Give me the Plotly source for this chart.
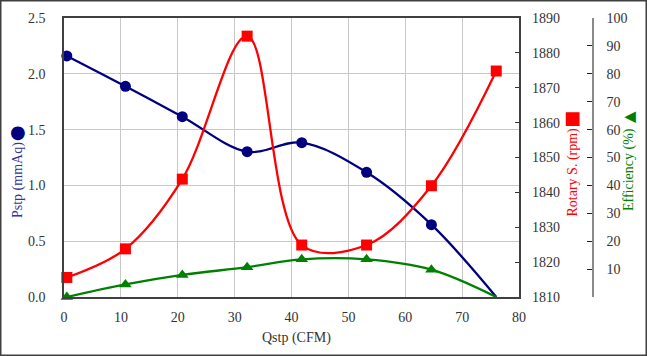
import plotly.graph_objects as go

# ---- data ----
qstp = [0.5, 10.8, 20.8, 32.2, 41.8, 53.2, 64.6, 76.0]
pstp = [2.16, 1.888, 1.616, 1.302, 1.383, 1.117, 0.648, 0.0]
rotary = [1815.6, 1823.8, 1843.8, 1884.8, 1824.9, 1824.9, 1841.9, 1874.8]
efficiency = [0.0, 4.5, 7.9, 10.7, 13.5, 13.5, 9.8, 0.0]

x_ticks = [0, 10, 20, 30, 40, 50, 60, 70, 80]
eff_ticks = [0, 10, 20, 30, 40, 50, 60, 70, 80, 90, 100]
eff_ticktext = [""] + [str(v) for v in eff_ticks[1:]]

NAVY = "#000080"
RED = "#ff0000"
GREEN = "#008000"
FONT = "Liberation Serif"

W, H = 647, 356
L, R, T, B = 64, 54, 18, 59
plot_right = 519
pw = W - L - R
dom_end = (plot_right - L) / pw


def px(x):
    return (x - L) / pw


def py(y):
    return (297 - y) / (H - T - B)


fig = go.Figure()
series = [
    (pstp, "y", NAVY, "circle", False),
    (rotary, "y2", RED, "square", True),
    (efficiency, "y3", GREEN, "triangle-up", False),
]
for vals, ax, col, sym, last_marker in series:
    fig.add_trace(go.Scatter(
        x=qstp, y=vals, mode="lines", yaxis=ax,
        line=dict(color=col, width=2.3, shape="spline", smoothing=1),
        cliponaxis=False, showlegend=False, hoverinfo="skip"))
    mx = qstp if last_marker else qstp[:-1]
    my = vals if last_marker else vals[:-1]
    fig.add_trace(go.Scatter(
        x=mx, y=my, mode="markers", yaxis=ax,
        marker=dict(symbol=sym, color=col, size=11, opacity=1,
                    line=dict(width=0)),
        cliponaxis=False, showlegend=False))

tickfont = dict(family=FONT, size=14, color="#333333")

fig.update_layout(
    width=W, height=H,
    margin=dict(l=L, r=R, t=T, b=B, autoexpand=False),
    paper_bgcolor="white", plot_bgcolor="white",
    font=dict(family=FONT, size=14),
    xaxis=dict(domain=[0, dom_end], range=[0, 80], tickvals=x_ticks,
               showgrid=True, gridcolor="#c8c8c8", gridwidth=1,
               showline=True, linecolor="#404040", linewidth=1.5, mirror=True,
               ticks="", zeroline=False, tickfont=tickfont, ticklabelstandoff=6,
               automargin=False),
    yaxis=dict(range=[0, 2.5], dtick=0.5, tickformat=".1f",
               showgrid=True, gridcolor="#c8c8c8", gridwidth=1,
               showline=True, linecolor="#404040", linewidth=1.5, mirror=True,
               ticks="", zeroline=False, tickfont=tickfont, ticklabelstandoff=14,
               automargin=False),
    yaxis2=dict(range=[1810, 1890], dtick=10, overlaying="y", side="right",
                anchor="x", showgrid=False, zeroline=False, showline=False,
                ticks="inside", ticklen=4, tickcolor="#333333",
                tickfont=tickfont, ticklabelstandoff=12, automargin=False),
    yaxis3=dict(range=[0, 100], tickvals=eff_ticks, ticktext=eff_ticktext,
                overlaying="y", side="right", anchor="free", position=1,
                showgrid=False, zeroline=False, showline=True,
                linecolor="#8a8a8a", linewidth=1.5,
                ticks="inside", ticklen=5, tickcolor="#222222",
                tickfont=tickfont, ticklabelstandoff=10, automargin=False),
)

ann = [
    dict(text="Qstp (CFM)", x=px(296), y=py(338), font=dict(color="#333333", size=14)),
    dict(text="Pstp (mmAq)", x=px(18), y=py(180), textangle=-90,
         font=dict(color="#333399", size=14)),
    dict(text="●", x=px(18), y=py(131), font=dict(color=NAVY, size=18, family="DejaVu Sans")),
    dict(text="Rotary S. (rpm)", x=px(572), y=py(172.5), textangle=-90,
         font=dict(color=RED, size=14)),
    dict(text="■", x=px(572), y=py(117), font=dict(color=RED, size=18, family="DejaVu Sans")),
    dict(text="Efficiency (%)", x=px(629), y=py(170), textangle=-90,
         font=dict(color=GREEN, size=14)),
    dict(text="▲", x=px(629), y=py(117), textangle=-90,
         font=dict(color=GREEN, size=15, family="DejaVu Sans")),
]
for a in ann:
    a.update(xref="paper", yref="paper", showarrow=False,
             xanchor="center", yanchor="middle")
    fig.add_annotation(**a)

fig.add_shape(type="rect", xref="paper", yref="paper",
              x0=px(0.75), x1=px(646.25), y0=py(355.25), y1=py(0.75),
              line=dict(color="#404040", width=1.5), fillcolor="rgba(0,0,0,0)")

fig.write_html(
    "out.html",
    config={"displayModeBar": False},
    post_script="document.body.style.margin='0';document.body.style.overflow='hidden';",
)
